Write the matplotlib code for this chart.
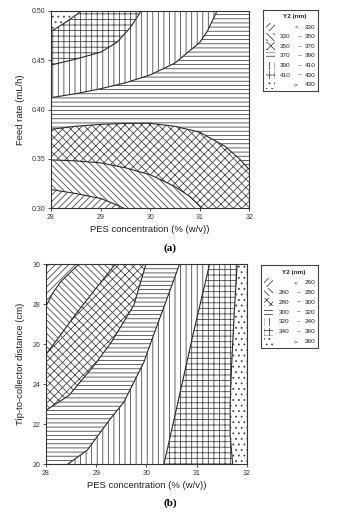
import numpy as np
import matplotlib.pyplot as plt
from matplotlib.patches import Rectangle

plt.rcParams['font.family'] = ['Liberation Sans', 'DejaVu Sans']
plt.rcParams['hatch.linewidth'] = 0.6

# ---- (a) Y2 vs PES concentration and feed rate: contour boundaries
a_330_x = [28.0, 28.5, 29.0, 29.25, 29.47]
a_330_y = [0.319, 0.315, 0.310, 0.305, 0.300]
a_350_x = [28.0, 28.5, 29.0, 29.5, 30.0, 30.5, 30.8, 31.05]
a_350_y = [0.349, 0.348, 0.346, 0.341, 0.334, 0.322, 0.312, 0.300]
a_370_x = [28.0, 28.5, 29.0, 29.5, 30.0, 30.5, 31.0, 31.5, 31.8, 32.0]
a_370_y = [0.380, 0.383, 0.385, 0.386, 0.386, 0.383, 0.377, 0.363, 0.350, 0.339]
a_390_x = [28.0, 28.5, 29.0, 29.5, 30.0, 30.5, 31.0, 31.15, 31.35]
a_390_y = [0.412, 0.416, 0.421, 0.427, 0.435, 0.447, 0.468, 0.479, 0.500]
a_410_x = [28.0, 28.5, 29.0, 29.33, 29.6, 29.82]
a_410_y = [0.445, 0.451, 0.458, 0.468, 0.483, 0.500]
a_430_x = [28.0, 28.32, 28.62]
a_430_y = [0.479, 0.489, 0.500]
a_legend = [('<', '330'), ('330', '350'), ('350', '370'), ('370', '390'),
            ('390', '410'), ('410', '430'), ('>', '430')]

# ---- (b) Y2 vs PES concentration and tip-to-collector distance
b_260_x = [28.0, 28.13, 28.3, 28.65]
b_260_y = [27.9, 28.55, 29.15, 30.0]
b_280_x = [28.0, 28.3, 28.62, 29.02, 29.38]
b_280_y = [25.5, 26.5, 27.6, 28.87, 30.0]
b_300_x = [28.0, 28.46, 28.96, 29.3, 29.75, 29.99]
b_300_y = [22.7, 23.45, 24.95, 26.1, 27.95, 30.0]
b_320_x = [28.43, 28.82, 29.29, 29.55, 29.95, 30.07, 30.37, 30.66]
b_320_y = [20.0, 20.7, 22.3, 23.1, 25.1, 25.95, 28.0, 30.0]
b_340_x = [30.35, 30.62, 30.94, 31.26]
b_340_y = [20.0, 23.0, 26.6, 30.0]
b_360_x = [31.72, 31.67, 31.67, 31.70, 31.75, 31.81]
b_360_y = [20.0, 21.5, 23.0, 25.0, 27.5, 30.0]
b_legend = [('<', '260'), ('260', '280'), ('280', '300'), ('300', '320'),
            ('320', '340'), ('340', '360'), ('>', '360')]

hatches = ['/////', '\\\\\\\\\\', 'xxxx', '----', '|||', '+++', '...']
hc = '#4a4a4a'
lc = '#2a2a2a'


def style_axes(ax, xlabel, ylabel, ylab_x):
    ax.set_xticks([28, 29, 30, 31, 32])
    ax.tick_params(direction='out', length=2.5, width=0.6, labelsize=5,
                   colors='#333333', pad=1.5)
    for s in ax.spines.values():
        s.set_linewidth(0.8)
        s.set_color('#333333')
    ax.set_xlabel(xlabel, fontsize=6.8, color='#222222')
    ax.xaxis.set_label_coords(0.5, -0.085)
    ax.set_ylabel(ylabel, fontsize=6.8, color='#222222')
    ax.yaxis.set_label_coords(ylab_x, 0.5)


def legend_box(rect, entries):
    lax = fig.add_axes(rect)
    lax.set_xlim(0, 1)
    lax.set_ylim(0, 1)
    lax.set_xticks([])
    lax.set_yticks([])
    for s in lax.spines.values():
        s.set_linewidth(0.8)
        s.set_color('#444444')
    lax.text(0.57, 0.915, 'Y2 (nm)', fontsize=4.6, fontweight='bold',
             ha='center', va='center', color='#222222')
    n = len(entries)
    for i, (lo, hi) in enumerate(entries):
        yc = 0.79 - i * (0.79 - 0.075) / (n - 1)
        lax.add_patch(Rectangle((0.05, yc - 0.05), 0.16, 0.1, facecolor='white',
                                edgecolor=hc, linewidth=0, hatch=hatches[i]))
        if lo in ('<', '>'):
            lax.text(0.6, yc, lo, fontsize=4.6, ha='center', va='center', color='#222222')
        else:
            lax.text(0.5, yc, lo, fontsize=4.6, ha='right', va='center', color='#222222')
            lax.text(0.67, yc, '\u2013', fontsize=4.6, ha='center', va='center', color='#222222')
        lax.text(0.96, yc, hi, fontsize=4.6, ha='right', va='center', color='#222222')


fig = plt.figure(figsize=(3.41, 5.19), dpi=100)

# ---------------- (a)
ax1 = fig.add_axes([0.1496, 0.5986, 0.5818, 0.3808])
a_bounds = [(a_330_x, a_330_y), (a_350_x, a_350_y), (a_370_x, a_370_y),
            (a_390_x, a_390_y), (a_410_x, a_410_y), (a_430_x, a_430_y)]
xg = np.linspace(28, 32, 801)
ax1.fill_between(xg, 0.30, 0.50, facecolor='white', edgecolor=hc,
                 linewidth=0, hatch=hatches[0])
for k, (bx, by) in enumerate(a_bounds):
    yb = np.interp(xg, bx, by)
    ax1.fill_between(xg, yb, 0.50, facecolor='white', edgecolor=hc,
                     linewidth=0, hatch=hatches[k + 1])
for bx, by in a_bounds:
    ax1.plot(bx, by, color=lc, lw=0.8)
ax1.set_xlim(28, 32)
ax1.set_ylim(0.30, 0.50)
ax1.set_yticks([0.30, 0.35, 0.40, 0.45, 0.50])
ax1.set_yticklabels(['0.30', '0.35', '0.40', '0.45', '0.50'])
style_axes(ax1, 'PES concentration (% (w/v))', 'Feed rate (mL/h)', -0.13)
legend_box([0.7713, 0.8247, 0.1613, 0.156], a_legend)
fig.text(0.4985, 0.522, '(a)', fontsize=8, family='Liberation Serif',
         fontweight='bold', ha='center', va='center')

# ---------------- (b)
ax2 = fig.add_axes([0.1349, 0.1054, 0.5886, 0.3854])
b_bounds = [(b_260_x, b_260_y), (b_280_x, b_280_y), (b_300_x, b_300_y),
            (b_320_x, b_320_y), (b_340_x, b_340_y), (b_360_x, b_360_y)]
yg = np.linspace(20, 30, 801)
ax2.fill_betweenx(yg, 28, 32, facecolor='white', edgecolor=hc,
                  linewidth=0, hatch=hatches[0])
for k, (bx, by) in enumerate(b_bounds):
    xb = np.interp(yg, by, bx)
    ax2.fill_betweenx(yg, xb, 32, facecolor='white', edgecolor=hc,
                      linewidth=0, hatch=hatches[k + 1])
for bx, by in b_bounds:
    ax2.plot(bx, by, color=lc, lw=0.8)
ax2.set_xlim(28, 32)
ax2.set_ylim(20, 30)
ax2.set_yticks([20, 22, 24, 26, 28, 30])
style_axes(ax2, 'PES concentration (% (w/v))', 'Tip-to-collector distance (cm)', -0.1025)
legend_box([0.7654, 0.3295, 0.1672, 0.1599], b_legend)
fig.text(0.4985, 0.0308, '(b)', fontsize=8, family='Liberation Serif',
         fontweight='bold', ha='center', va='center')

fig.savefig('out.png', dpi=100)
